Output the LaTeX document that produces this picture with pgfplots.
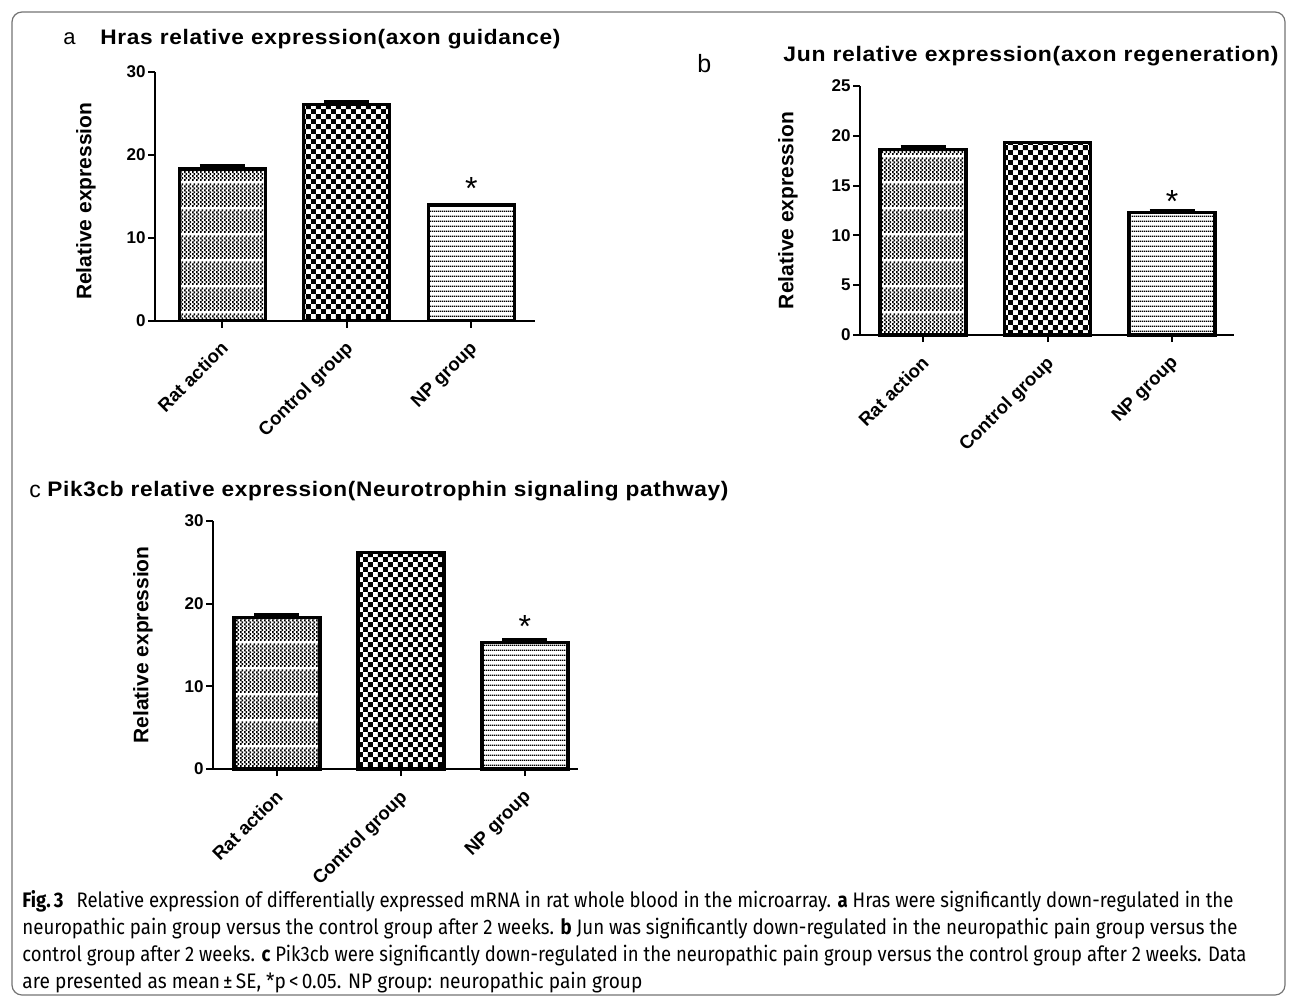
\documentclass[border=0pt]{standalone}
\usepackage{pgfplots}
\pgfplotsset{compat=1.18}
\usetikzlibrary{patterns}
\usepackage{fontspec}
\usepackage{graphicx}
\setmainfont{Liberation Sans}
\newfontfamily\capfont{Fira Sans}
\newfontfamily\titlefont[LetterSpace=3]{Liberation Sans}

% fine checker with thin white horizontal lines
\pgfdeclarepatternformonly{finechk}{\pgfqpoint{0pt}{0pt}}{\pgfqpoint{2pt}{12.75pt}}{\pgfqpoint{2pt}{12.75pt}}{%
  \pgfpathrectangle{\pgfpoint{0pt}{0pt}}{\pgfpoint{1pt}{1pt}}%
  \pgfpathrectangle{\pgfpoint{1pt}{1pt}}{\pgfpoint{1pt}{1pt}}%
  \pgfpathrectangle{\pgfpoint{0pt}{2pt}}{\pgfpoint{1pt}{1pt}}%
  \pgfpathrectangle{\pgfpoint{1pt}{3pt}}{\pgfpoint{1pt}{1pt}}%
  \pgfpathrectangle{\pgfpoint{0pt}{4pt}}{\pgfpoint{1pt}{1pt}}%
  \pgfpathrectangle{\pgfpoint{1pt}{5pt}}{\pgfpoint{1pt}{1pt}}%
  \pgfpathrectangle{\pgfpoint{0pt}{6pt}}{\pgfpoint{1pt}{1pt}}%
  \pgfpathrectangle{\pgfpoint{1pt}{7pt}}{\pgfpoint{1pt}{1pt}}%
  \pgfpathrectangle{\pgfpoint{0pt}{8pt}}{\pgfpoint{1pt}{1pt}}%
  \pgfpathrectangle{\pgfpoint{1pt}{9pt}}{\pgfpoint{1pt}{1pt}}%
  \pgfpathrectangle{\pgfpoint{0pt}{10pt}}{\pgfpoint{1pt}{1pt}}%
  \pgfpathrectangle{\pgfpoint{1pt}{11pt}}{\pgfpoint{1pt}{1pt}}%
  \pgfusepath{fill}%
}
% coarse checker
\pgfdeclarepatternformonly{coarsechk}{\pgfqpoint{0pt}{0pt}}{\pgfqpoint{5.2pt}{5.2pt}}{\pgfqpoint{5.2pt}{5.2pt}}{%
  \pgfpathrectangle{\pgfpoint{0pt}{0pt}}{\pgfpoint{2.6pt}{2.6pt}}%
  \pgfpathrectangle{\pgfpoint{2.6pt}{2.6pt}}{\pgfpoint{2.6pt}{2.6pt}}%
  \pgfusepath{fill}%
}
% horizontal lines
\pgfdeclarepatternformonly{hlin}{\pgfqpoint{0pt}{0pt}}{\pgfqpoint{1pt}{2.55pt}}{\pgfqpoint{1pt}{2.55pt}}{%
  \pgfpathrectangle{\pgfpoint{0pt}{0pt}}{\pgfpoint{1pt}{0.8pt}}%
  \pgfusepath{fill}%
}

\tikzset{star/.style={font=\fontsize{16}{16}\selectfont, anchor=base, inner sep=0pt}}

\pgfplotsset{
  panel/.style={
    scale only axis,
    anchor=south west,
    ymin=0,
    axis x line=bottom, axis y line=left,
    axis line style={-, line width=1pt, black},
    tick align=outside,
    major tick length=3.5pt,
    tick style={line width=1pt, black},
    xtick={0,1,2},
    xticklabels={Rat action, Control group, NP group},
    xticklabel style={font=\bfseries\fontsize{9.3}{10}\selectfont, rotate=45, anchor=north east, inner sep=0pt, xshift=-5.2pt, yshift=-3.3pt},
    yticklabel style={font=\bfseries\fontsize{8.5}{10}\selectfont, inner sep=1pt},
    /pgf/number format/assume math mode=true,
    ylabel={Relative expression},
    ylabel style={font=\bfseries\fontsize{10.5}{12}\selectfont, anchor=center},
    clip=false,
  },
  barA/.style={ybar, bar width=43pt, bar shift=0pt, draw=black, line width=1.6pt, pattern=finechk, pattern color=black},
  barB/.style={ybar, bar width=43pt, bar shift=0pt, draw=black, line width=1.6pt, pattern=coarsechk, pattern color=black},
  barC/.style={ybar, bar width=43pt, bar shift=0pt, draw=black, line width=1.6pt, pattern=hlin, pattern color=black},
  eb/.style={error bars/.cd, y dir=plus, y explicit, error mark=|,
    error bar style={line width=1.6pt, black},
    error mark options={line width=1.6pt, mark size=11.25pt, black}},
}

\begin{document}
\begin{tikzpicture}
\useasboundingbox (0,0) rectangle (646.5pt,-500pt);
\draw[rounded corners=5pt, black!55, line width=0.6pt] (6pt,-6pt) rectangle (642.5pt,-497.5pt);

% ---------- panel a ----------
\node[anchor=base west, inner sep=0pt, font=\fontsize{11}{12}\selectfont] at (31.5pt,-22.5pt) {a};
\node[anchor=base west, inner sep=0pt] at (50pt,-22.5pt) {\resizebox{230pt}{\height}{\titlefont\bfseries\fontsize{10.5}{12}\selectfont Hras relative expression(axon guidance)}};
\begin{axis}[panel, at={(77.5pt,-160.25pt)}, width=190pt, height=124.25pt,
  xmin=-0.54, xmax=2.512, ymax=30, ytick={0,10,20,30},
  ylabel style={at={(axis description cs:-0.182,0.48)}}]
\addplot[barA, eb] coordinates {(0,18.3) +- (0,0.35)};
\addplot[barB, eb] coordinates {(1,26.1) +- (0,0.3)};
\addplot[barC] coordinates {(2,13.95)};
\node[star] at (axis cs:2,14.65) {*};
\end{axis}

% ---------- panel b ----------
\node[anchor=base west, inner sep=0pt, font=\fontsize{12.5}{13}\selectfont] at (348.5pt,-36.5pt) {b};
\node[anchor=base west, inner sep=0pt] at (391.5pt,-31pt) {\resizebox{247.5pt}{\height}{\titlefont\bfseries\fontsize{10.5}{12}\selectfont Jun relative expression(axon regeneration)}};
\begin{axis}[panel, at={(430pt,-167.5pt)}, width=187pt, height=124.5pt,
  xmin=-0.506, xmax=2.498, ymax=25, ytick={0,5,10,15,20,25},
  ylabel style={at={(axis description cs:-0.193,0.5)}}]
\addplot[barA, eb] coordinates {(0,18.65) +- (0,0.25)};
\addplot[barB] coordinates {(1,19.35)};
\addplot[barC, eb] coordinates {(2,12.3) +- (0,0.15)};
\node[star] at (axis cs:2,12.25) {*};
\end{axis}

% ---------- panel c ----------
\node[anchor=base west, inner sep=0pt, font=\fontsize{11.5}{12}\selectfont] at (14.5pt,-248.5pt) {c};
\node[anchor=base west, inner sep=0pt] at (23.5pt,-248pt) {\resizebox{340.5pt}{\height}{\titlefont\bfseries\fontsize{10.5}{12}\selectfont Pik3cb relative expression(Neurotrophin signaling pathway)}};
\begin{axis}[panel, at={(106.5pt,-384.5pt)}, width=182.5pt, height=124pt,
  xmin=-0.516, xmax=2.428, ymax=30, ytick={0,10,20,30},
  ylabel style={at={(axis description cs:-0.192,0.5)}}]
\addplot[barA, eb] coordinates {(0,18.35) +- (0,0.3)};
\addplot[barB] coordinates {(1,26.2)};
\addplot[barC, eb] coordinates {(2,15.35) +- (0,0.3)};
\node[star] at (axis cs:2,15.9) {*};
\end{axis}

% ---------- caption ----------
\node[anchor=base west, inner sep=0pt] at (11pt,-453.5pt) {\resizebox{605.5pt}{\height}{\capfont\fontsize{10.5}{12}\selectfont\textbf{Fig.\,3}\hspace{0.7em}Relative expression of differentially expressed mRNA in rat whole blood in the microarray. \textbf{a} Hras were significantly down-regulated in the}};
\node[anchor=base west, inner sep=0pt] at (11pt,-467pt) {\resizebox{607.5pt}{\height}{\capfont\fontsize{10.5}{12}\selectfont neuropathic pain group versus the control group after 2 weeks. \textbf{b} Jun was significantly down-regulated in the neuropathic pain group versus the}};
\node[anchor=base west, inner sep=0pt] at (11pt,-480.5pt) {\resizebox{612pt}{\height}{\capfont\fontsize{10.5}{12}\selectfont control group after 2 weeks. \textbf{c} Pik3cb were significantly down-regulated in the neuropathic pain group versus the control group after 2 weeks. Data}};
\node[anchor=base west, inner sep=0pt] at (11pt,-494pt) {\resizebox{310pt}{\height}{\capfont\fontsize{10.5}{12}\selectfont are presented as mean\,±\,SE, *p\,<\,0.05. NP group: neuropathic pain group}};
\end{tikzpicture}
\end{document}
